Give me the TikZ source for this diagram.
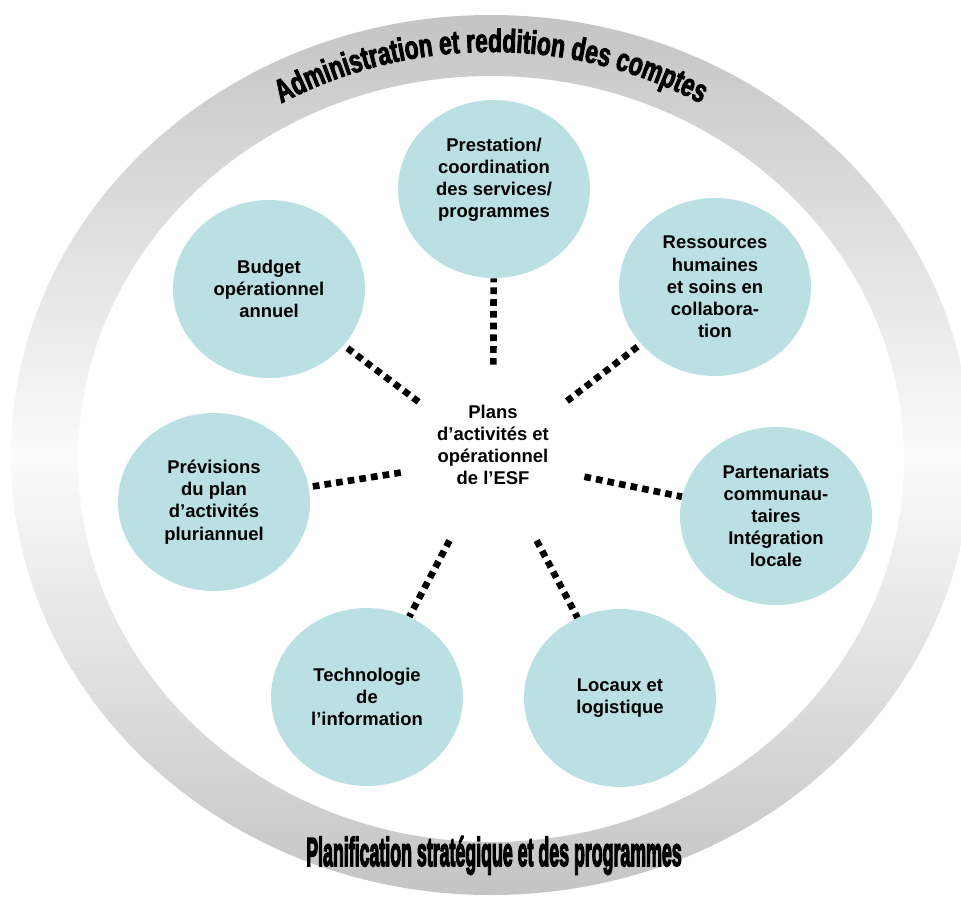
\documentclass[tikz,border=0pt]{standalone}
\usepackage{fontspec}
\setmainfont{Liberation Sans}
\newfontfamily\topringfont{Liberation Sans Bold}[FakeBold=2.5, FakeStretch=0.7]
\newfontfamily\bottomringfont{Liberation Sans Bold}[FakeBold=4.5]
\usetikzlibrary{shapes.geometric,decorations.text}
\definecolor{bubblecolor}{HTML}{BAE0E3}
\definecolor{ringgray}{HTML}{C4C4C4}
\definecolor{ringlight}{HTML}{FBFBFB}

\begin{document}
\begin{tikzpicture}[
    x = 0.02cm, y = 0.02cm,
    every node/.style = {font=\fontsize{10.5}{12.6}\selectfont\bfseries},
    bubble/.style = {
        ellipse,
        fill=bubblecolor,
        align=center,
        inner sep=0pt,
        minimum width=3.84cm,
        minimum height=3.56cm
    },
    hub/.style = {
        circle,
        inner sep=0pt,
        minimum size=3.72cm
    },
    link/.style = {
        line width=3.8pt,
        dash pattern=on 3.8pt off 2.9pt
    }
]

\useasboundingbox (0,0) rectangle (961,-897);

\shade[even odd rule, top color=ringgray, bottom color=ringgray, middle color=ringlight]
    (491,-455) ellipse [x radius=480, y radius=440]
    (491,-459) ellipse [x radius=413, y radius=383];

\path[decorate, decoration={text along path, text align=center,
    text={|\topringfont\fontsize{18.5}{20}\selectfont|Administration et reddition des comptes}}]
    (491,-457) ++(150:430 and 405) arc[start angle=150, end angle=30, x radius=430, y radius=405];
\node[anchor=base, font=\bottomringfont\fontsize{23}{25}\selectfont] (strategic) at (494,-866)
    {\scalebox{0.44}[1]{Planification stratégique et des programmes}};

\node[hub] (plans) at (493,-458) {};
\node[align=center] (planstext) at (493,-445) {Plans\\d’activités et\\opérationnel\\de l’ESF};

\node[bubble, text depth=13pt] (service) at (494,-189) {Prestation/\\coordination\\des services/\\programmes};
\node[bubble] (budget) at (269,-289) {Budget\\opérationnel\\annuel};
\node[bubble] (staff) at (715,-287) {Ressources\\humaines\\et soins en\\collabora-\\tion};
\node[bubble] (forecast) at (214,-502) {Prévisions\\du plan\\d’activités\\pluriannuel};
\node[bubble] (partners) at (776,-516) {Partenariats\\communau-\\taires\\Intégration\\locale};
\node[bubble] (tech) at (367,-697) {Technologie\\de\\l’information};
\node[bubble] (premises) at (620,-698) {Locaux et\\logistique};

\foreach \n in {service,budget,staff,forecast,partners,tech,premises}
    \draw[link] (plans) -- (\n);

\end{tikzpicture}
\end{document}
